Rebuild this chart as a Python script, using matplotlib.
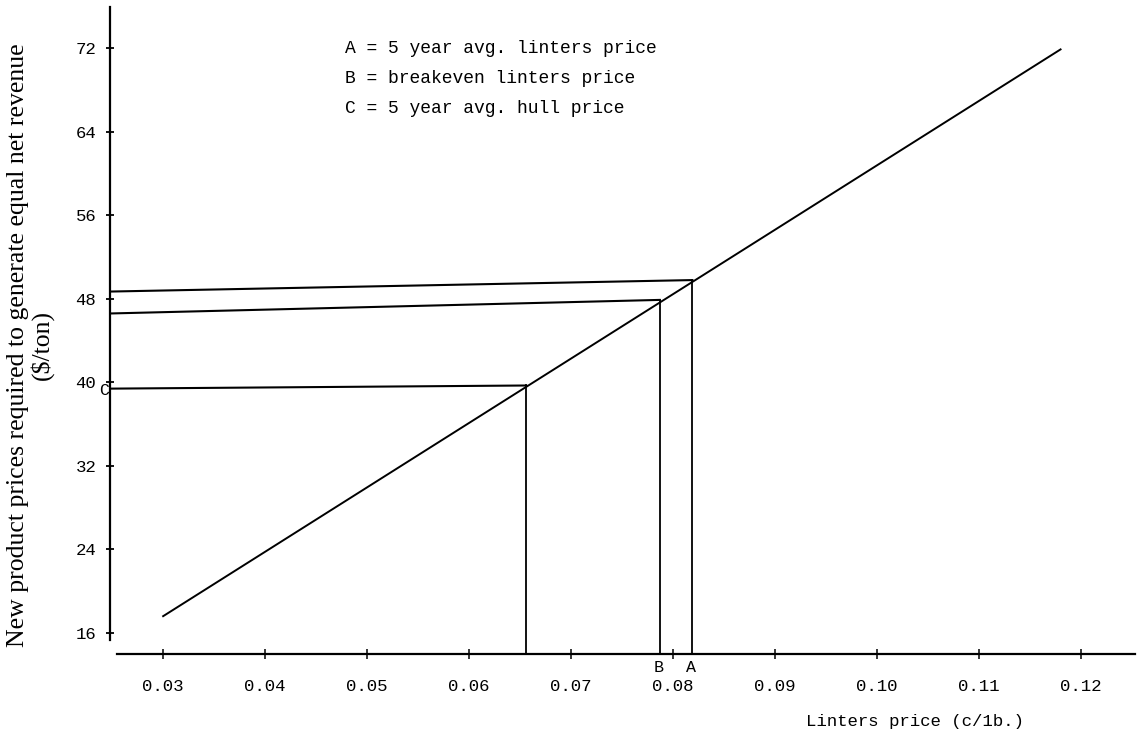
"""Linters price vs. new product prices needed for equal net revenue."""
import matplotlib
matplotlib.use("Agg")
import matplotlib.pyplot as plt

MONO = "Liberation Mono"
SERIF = "Liberation Serif"

# main relationship line (end points)
line_x = [0.030, 0.118]
line_y = [17.6, 71.9]

# reference points A, B, C on the line
ref_labels = ["C", "B", "A"]
ref_x = [0.0656, 0.0787, 0.0819]
ref_y = [39.7, 47.9, 49.8]
# the scanned horizontals drift slightly; value where each meets the y axis
ref_y_axis = [39.4, 46.6, 48.7]

x_ticks = [0.03, 0.04, 0.05, 0.06, 0.07, 0.08, 0.09, 0.10, 0.11, 0.12]
x_tick_labels = ["0.03", "0.04", "0.05", "0.06", "0.07", "0.08",
                 "0.09", "0.10", "0.11", "0.12"]
y_ticks = [16, 24, 32, 40, 48, 56, 64, 72]

notes = [
    "A = 5 year avg. linters price",
    "B = breakeven linters price",
    "C = 5 year avg. hull price",
]

X0, Y0 = 0.0248, 14.0  # where the axes cross

fig = plt.figure(figsize=(11.4, 7.42), dpi=100)
ax = fig.add_axes([0.0939, 0.1119, 0.9035, 0.8792])
ax.set_xlim(0.0245, 0.1255)
ax.set_ylim(13.5, 76)

for side in ("top", "right"):
    ax.spines[side].set_visible(False)
ax.spines["left"].set_position(("data", X0))
ax.spines["bottom"].set_position(("data", Y0))
ax.spines["left"].set_bounds(15.3, 76)
ax.spines["bottom"].set_bounds(0.0255, 0.1253)
for side in ("left", "bottom"):
    ax.spines[side].set_linewidth(1.6)

ax.set_xticks(x_ticks, x_tick_labels, fontfamily=MONO, fontsize=12.5)
ax.set_yticks(y_ticks, [str(v) for v in y_ticks], fontfamily=MONO, fontsize=12.5)
ax.tick_params(axis="x", direction="inout", length=6.5, width=1.1, pad=15)
ax.tick_params(axis="y", direction="inout", length=6, width=1.3, pad=7)

ax.plot(line_x, line_y, color="black", lw=1.4)
for lab, x, y, y_left in zip(ref_labels, ref_x, ref_y, ref_y_axis):
    ax.plot([X0, x], [y_left, y], color="black", lw=1.5)
    ax.plot([x, x], [y, Y0], color="black", lw=1.3)

# letter markers
ax.text(ref_x[1] - 0.0001, Y0 - 0.6, ref_labels[1], ha="center", va="top",
        fontfamily=MONO, fontsize=12)
ax.text(ref_x[2] - 0.0001, Y0 - 0.6, ref_labels[2], ha="center", va="top",
        fontfamily=MONO, fontsize=12)
ax.text(X0 - 0.0001, ref_y_axis[0] - 0.2, ref_labels[0], ha="right", va="center",
        fontfamily=MONO, fontsize=12)

for i, note in enumerate(notes):
    ax.text(0.0478, 72.0 - i * 2.9, note, ha="left", va="center",
            fontfamily=MONO, fontsize=13)

fig.text(0.803, 0.027, "Linters price (c/1b.)", ha="center", va="center",
         fontfamily=MONO, fontsize=12.5)
fig.text(0.027, 0.535,
         "New product prices required to generate equal net revenue\n($/ton)",
         rotation=90, ha="center", va="center", ma="center",
         fontfamily=SERIF, fontsize=18.5, linespacing=1.05)

fig.savefig("out.png", dpi=100)
